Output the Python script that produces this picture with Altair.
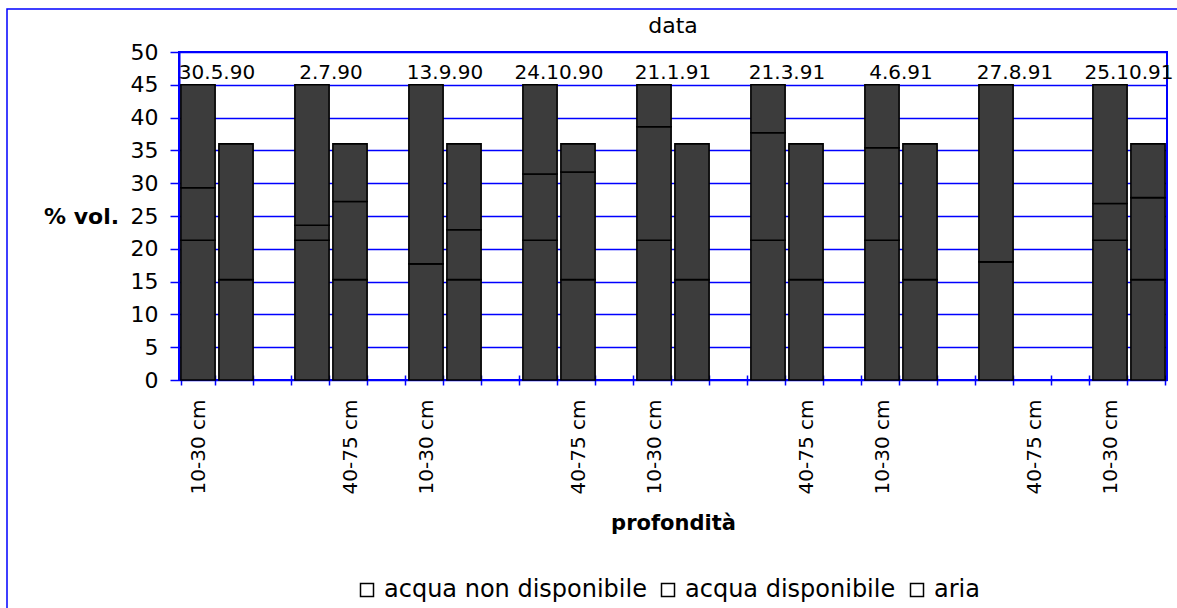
import json
import altair as alt
import pandas as pd

# ---------------- data ----------------
dates = ["30.5.90", "2.7.90", "13.9.90", "24.10.90", "21.1.91",
         "21.3.91", "4.6.91", "27.8.91", "25.10.91"]
depths = ["10-30 cm", "40-75 cm"]
series = ["acqua non disponibile", "acqua disponibile", "aria"]

# 10-30 cm
nd_top = [21.3, 21.3, 17.7, 21.3, 21.3, 21.3, 21.3, 18.0, 21.3]
d_top = [8.0, 2.3, 0.0, 10.1, 17.3, 16.4, 14.1, 0.0, 5.6]
aria_top = [15.7, 21.4, 27.3, 13.6, 6.4, 7.3, 9.6, 27.0, 18.1]
# 40-75 cm
nd_sub = [15.3, 15.3, 15.3, 15.3, 15.3, 15.3, 15.3, 0.0, 15.3]
d_sub = [20.7, 11.9, 7.6, 16.4, 20.7, 20.7, 20.7, 0.0, 12.5]
aria_sub = [0.0, 8.8, 13.1, 4.3, 0.0, 0.0, 0.0, 0.0, 8.2]

y_ticks = [0, 5, 10, 15, 20, 25, 30, 35, 40, 45, 50]
chart_title = "data"
x_title = "profondità"
y_title = "% vol."

# ---------------- build tables ----------------
keys, slot_labels = [], []
rows, date_rows = [], []
vals = {
    depths[0]: [nd_top, d_top, aria_top],
    depths[1]: [nd_sub, d_sub, aria_sub],
}
for i, dt in enumerate(dates):
    for j, dp in enumerate(depths):
        k = f"s{len(keys):02d}"
        keys.append(k)
        slot_labels.append(dp)
        if j == 0:
            date_rows.append({"key": k, "date": dt, "value": 45})
        for s, name in enumerate(series):
            v = vals[dp][s][i]
            if v > 0:
                rows.append({"key": k, "series": name, "ord": s, "value": v})
    if i < len(dates) - 1:
        keys.append(f"s{len(keys):02d}")
        slot_labels.append("")

df = pd.DataFrame(rows)
df_dates = pd.DataFrame(date_rows)
df_leg = pd.DataFrame({"series": series})
df_one = pd.DataFrame({"t": [chart_title]})

F = "DejaVu Sans"
BLUE = "#0000ff"
W, H = 988, 328

keys_js = json.dumps(keys)
lab_js = json.dumps(slot_labels)
label_expr = (
    f"(isString(datum.value) && indexof({keys_js}, datum.value) >= 0 && "
    f"indexof({keys_js}, datum.value) % 2 == 0) ? "
    f"{lab_js}[indexof({keys_js}, datum.value)] : ''"
)

xscale = alt.Scale(domain=keys, paddingInner=0.1, paddingOuter=0.05)
yscale = alt.Scale(domain=[0, 50], nice=False)

xaxis = alt.Axis(
    title=x_title, labelExpr=label_expr, labelAngle=-90, labelFont=F,
    labelFontSize=20, labelColor="black", labelPadding=14, labelOverlap=False,
    tickBand="extent", tickSize=10, tickColor=BLUE, tickWidth=1.5, offset=-5,
    domain=False, grid=False,
    titleFont=F, titleFontWeight="bold",
    titleFontSize=21, titleColor="black", titleY=148, titleBaseline="middle",
)
yaxis = alt.Axis(
    values=y_ticks, title=y_title, titleAngle=0, titleX=-98, titleY=164,
    titleAlign="center", titleBaseline="middle", titleFont=F,
    titleFontWeight="bold", titleFontSize=22, titleColor="black",
    labelFont=F, labelFontSize=22, labelColor="black", labelPadding=12,
    labelOverlap=False, tickSize=9, tickColor=BLUE, tickWidth=1.5,
    domain=True, domainColor=BLUE, domainWidth=2, grid=True,
    gridColor=BLUE, gridWidth=1.3, gridOpacity=1,
)

border = alt.Chart(df_one).mark_rect(
    fill="white", fillOpacity=0, stroke=BLUE, strokeWidth=1.5
).encode(
    x=alt.value(-172), x2=alt.value(W + 60),
    y=alt.value(-43), y2=alt.value(H + 300),
)

bars = alt.Chart(df).mark_bar(
    fill="#3c3c3c", stroke="black", strokeWidth=1.6
).encode(
    x=alt.X("key:N", sort=None, scale=xscale, axis=xaxis),
    y=alt.Y("value:Q", stack="zero", scale=yscale, axis=yaxis),
    order=alt.Order("ord:Q"),
    detail="series:N",
)

date_labels = alt.Chart(df_dates).mark_text(
    font=F, fontSize=20, align="center", baseline="alphabetic",
    dx=19, dy=-6, color="black"
).encode(
    x=alt.X("key:N", sort=None, scale=xscale, axis=xaxis),
    y=alt.Y("value:Q", scale=yscale, axis=yaxis),
    text="date:N",
)

title_txt = alt.Chart(df_one).mark_text(
    font=F, fontSize=22, align="center", baseline="alphabetic", color="black"
).encode(
    x=alt.value(W / 2), y=alt.value(-19), text="t:N"
)

legend_pts = alt.Chart(df_leg).mark_point(
    shape="square", filled=False, opacity=0
).encode(
    x=alt.value(0), y=alt.value(0),
    color=alt.Color(
        "series:N",
        scale=alt.Scale(domain=series, range=["black"] * 3),
        legend=alt.Legend(
            title=None, orient="none", direction="horizontal",
            legendX=176, legendY=526, symbolType="square", symbolSize=169,
            symbolStrokeWidth=1.5, symbolOpacity=1, labelFont=F,
            labelFontSize=24, labelColor="black", labelOffset=5,
            columnPadding=9, padding=0, labelLimit=400,
        ),
    ),
)

chart = alt.layer(border, bars, date_labels, title_txt, legend_pts).properties(
    width=W, height=H,
    autosize=alt.AutoSizeParams(type="none"),
    padding={"left": 179, "top": 52, "right": 10, "bottom": 228},
    background="white",
).configure_view(stroke=BLUE, strokeWidth=2)

chart.save("out.html", embed_options={"renderer": "svg", "actions": False})
